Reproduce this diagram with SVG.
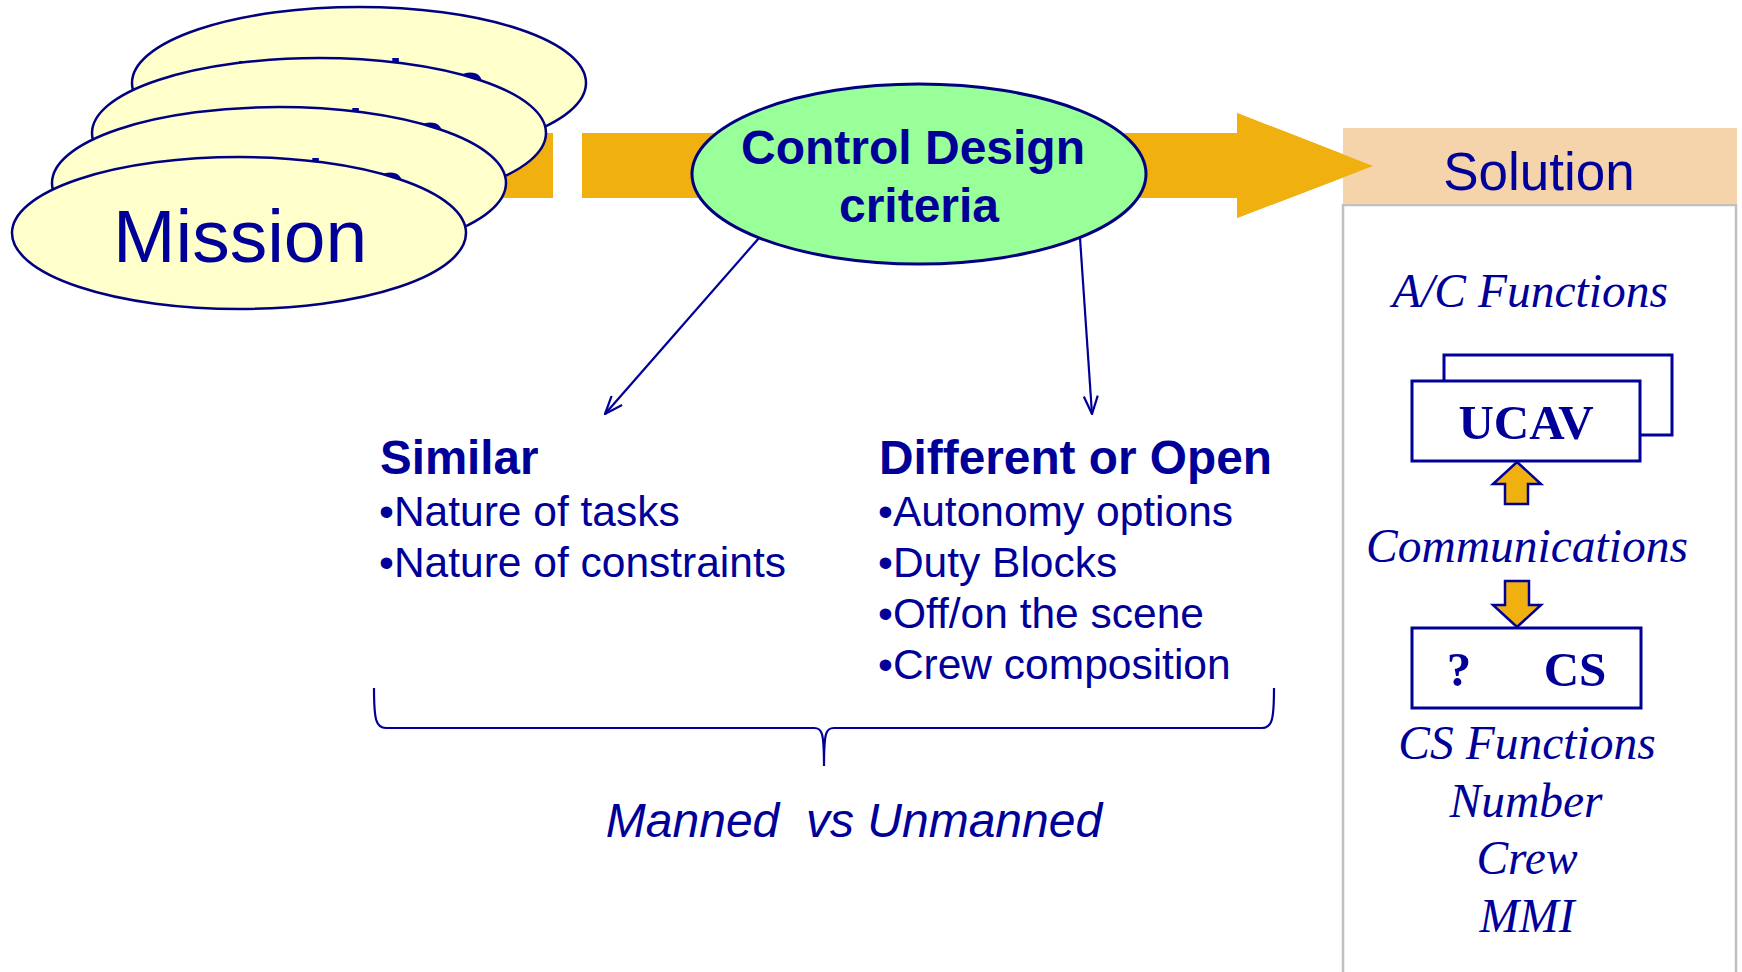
<svg xmlns="http://www.w3.org/2000/svg" width="1742" height="972" viewBox="0 0 1742 972">
  <style>
    .mission { fill: #FFFFCC; stroke: #000080; stroke-width: 2.5; }
    .big { font-family: "Liberation Sans", Arial, sans-serif; font-size: 75px; fill: #000099; }
    .bold { font-family: "Liberation Sans", Arial, sans-serif; font-weight: bold; fill: #000099; }
    .sans { font-family: "Liberation Sans", Arial, sans-serif; fill: #000099; }
    .serif-i { font-family: "Liberation Serif", "Times New Roman", serif; font-style: italic; font-size: 47.5px; fill: #000099; }
    .serif-b { font-family: "Liberation Serif", "Times New Roman", serif; font-weight: bold; font-size: 49px; fill: #000099; }
    .box { fill: #FFFFFF; stroke: #000099; stroke-width: 3; }
    .blockarrow { fill: #F0B010; stroke: #000099; stroke-width: 2.5; }
    .link { fill: none; stroke: #000099; stroke-width: 2.2; }
  </style>
  <defs>
    <marker id="open-arrow" viewBox="0 0 20 16" refX="19" refY="8" markerWidth="20" markerHeight="16" markerUnits="userSpaceOnUse" orient="auto">
      <path d="M1,1 L19,8 L1,15" fill="none" stroke="#000099" stroke-width="2.2"/>
    </marker>
  </defs>

  <rect width="1742" height="972" fill="#FFFFFF"/>

  <!-- main flow arrow: short stub behind the mission stack, then the long arrow -->
  <g id="flow-arrow" fill="#F0B010">
    <rect x="440" y="133" width="113" height="65"/>
    <polygon points="582,133 1237,133 1237,113 1373,166 1237,218 1237,198 582,198"/>
  </g>

  <!-- stacked mission ellipses, each one offset up and to the right -->
  <g id="mission-stack">
    <g id="mission-4">
      <ellipse class="mission" cx="359" cy="83" rx="227" ry="76"/>
      <text class="big" x="233" y="112">Mission</text>
    </g>
    <g id="mission-3">
      <ellipse class="mission" cx="319" cy="133" rx="227" ry="75"/>
      <text class="big" x="193" y="162">Mission</text>
    </g>
    <g id="mission-2">
      <ellipse class="mission" cx="279" cy="183" rx="227" ry="76"/>
      <text class="big" x="153" y="212">Mission</text>
    </g>
    <g id="mission-1">
      <ellipse class="mission" cx="239" cy="233" rx="227" ry="76"/>
      <text class="big" x="113" y="262">Mission</text>
    </g>
  </g>

  <!-- solution panel -->
  <g id="solution">
    <rect x="1343" y="205" width="393" height="780" fill="#FFFFFF" stroke="#C0C0C0" stroke-width="2.5"/>
    <rect x="1343" y="128" width="394" height="76" fill="#F5D4AC"/>
    <text class="sans" x="1539" y="190" font-size="53" text-anchor="middle">Solution</text>
  </g>

  <!-- arrow tip drawn over the panel header -->
  <polygon points="1237,113 1373,166 1237,218" fill="#F0B010"/>

  <!-- control design criteria -->
  <g id="control-design">
    <ellipse cx="919" cy="174" rx="227" ry="90" fill="#99FF99" stroke="#000080" stroke-width="3"/>
    <text class="bold" x="913" y="164" font-size="48" text-anchor="middle">Control Design</text>
    <text class="bold" x="919" y="222" font-size="48" text-anchor="middle">criteria</text>
  </g>

  <!-- connectors -->
  <g id="connectors">
    <line class="link" x1="759" y1="238" x2="605" y2="414" marker-end="url(#open-arrow)"/>
    <line class="link" x1="1080" y1="238" x2="1092" y2="414" marker-end="url(#open-arrow)"/>
    <path class="link" d="M374,688 C374,720 376,728 386,728 L814,728 C822,728 824,732 824,766 C824,732 826,728 834,728 L1262,728 C1272,728 1274,720 1274,688" stroke-width="2.5"/>
  </g>

  <!-- similar column -->
  <g id="similar">
    <text class="bold" x="380" y="474" font-size="47.5">Similar</text>
    <text class="sans" x="379" y="526" font-size="42.5">•Nature of tasks</text>
    <text class="sans" x="379" y="577" font-size="42.5">•Nature of constraints</text>
  </g>

  <!-- different or open column -->
  <g id="different">
    <text class="bold" x="879" y="474" font-size="47.8">Different or Open</text>
    <text class="sans" x="878" y="526" font-size="42.5">•Autonomy options</text>
    <text class="sans" x="878" y="577" font-size="42.5">•Duty Blocks</text>
    <text class="sans" x="878" y="628" font-size="42.5">•Off/on the scene</text>
    <text class="sans" x="878" y="679" font-size="42.5">•Crew composition</text>
  </g>

  <g id="manned-label">
    <text class="sans" x="854" y="837" font-size="48" font-style="italic" text-anchor="middle" style="white-space:pre">Manned  vs Unmanned</text>
  </g>

  <!-- solution contents -->
  <g id="ac-functions">
    <text class="serif-i" x="1530" y="307" text-anchor="middle">A/C Functions</text>
  </g>

  <g id="ucav">
    <rect class="box" x="1444" y="355" width="228" height="80"/>
    <rect class="box" x="1412" y="381" width="228" height="80"/>
    <text class="serif-b" x="1526" y="439" text-anchor="middle">UCAV</text>
  </g>

  <g id="uplink">
    <polygon class="blockarrow" points="1517,462 1541,484 1528,484 1528,504 1505,504 1505,484 1493,484"/>
  </g>

  <g id="communications">
    <text class="serif-i" x="1527" y="562" font-size="48.5" text-anchor="middle">Communications</text>
  </g>

  <g id="downlink">
    <polygon class="blockarrow" points="1505,581 1529,581 1529,605 1541,605 1517,627 1493,605 1505,605"/>
  </g>

  <g id="cs">
    <rect class="box" x="1412" y="628" width="229" height="80"/>
    <text class="serif-b" x="1459" y="686" text-anchor="middle">?</text>
    <text class="serif-b" x="1575" y="686" text-anchor="middle">CS</text>
  </g>

  <g id="cs-functions">
    <text class="serif-i" x="1527" y="759" text-anchor="middle">CS Functions</text>
    <text class="serif-i" x="1526" y="817" text-anchor="middle">Number</text>
    <text class="serif-i" x="1527" y="874" text-anchor="middle">Crew</text>
    <text class="serif-i" x="1527" y="932" text-anchor="middle">MMI</text>
  </g>
</svg>
